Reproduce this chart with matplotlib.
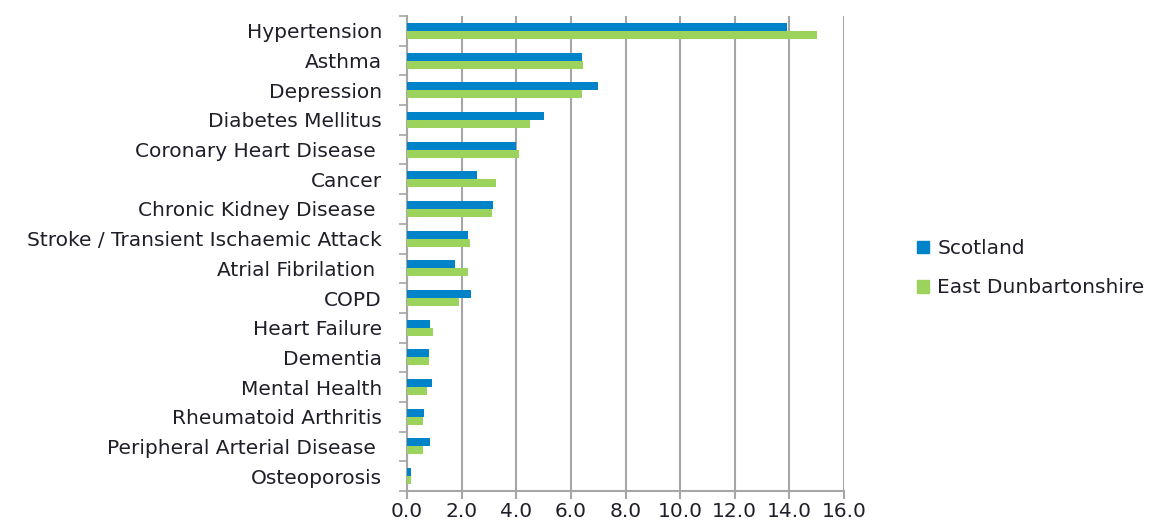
import numpy as np
import matplotlib.pyplot as plt
from matplotlib.patches import Patch
from matplotlib.ticker import FixedLocator, FormatStrFormatter

plt.rcParams['font.family'] = ['DejaVu Sans']

conditions = [
    "Hypertension", "Asthma", "Depression", "Diabetes Mellitus",
    "Coronary Heart Disease ", "Cancer", "Chronic Kidney Disease ",
    "Stroke / Transient Ischaemic Attack", "Atrial Fibrilation ", "COPD",
    "Heart Failure", "Dementia", "Mental Health", "Rheumatoid Arthritis",
    "Peripheral Arterial Disease ", "Osteoporosis",
]
scotland = [13.9, 6.4, 7.0, 5.0, 4.0, 2.55, 3.15, 2.25, 1.75, 2.35,
            0.85, 0.8, 0.9, 0.63, 0.85, 0.14]
east_dunbartonshire = [15.0, 6.45, 6.4, 4.5, 4.1, 3.25, 3.1, 2.3, 2.25, 1.9,
                       0.95, 0.8, 0.72, 0.6, 0.58, 0.15]
x_ticks = np.arange(0, 16.1, 2)

blue = "#0083c9"
green = "#9bd35d"
grid_col = "#a6a6a6"
text_col = "#1f1f2a"
fs = 14.5

fig = plt.figure(figsize=(11.56, 5.22), dpi=100)
ax = fig.add_axes([407 / 1156, 31 / 522, 437 / 1156, 475 / 522])

n = len(conditions)
pos = np.arange(n)[::-1]
h = 0.27
ax.barh(pos + h / 2, scotland, height=h, color=blue, zorder=3)
ax.barh(pos - h / 2, east_dunbartonshire, height=h, color=green, zorder=3)

ax.set_xlim(0, 16)
ax.set_ylim(-0.5, n - 0.5)
ax.set_xticks(x_ticks)
ax.xaxis.set_major_formatter(FormatStrFormatter('%.1f'))
ax.set_yticks(pos)
ax.set_yticklabels(conditions)
ax.yaxis.set_minor_locator(FixedLocator(np.arange(-0.5, n, 1)))

ax.grid(axis='x', color=grid_col, linewidth=1.5, zorder=0)
for s in ['top', 'right']:
    ax.spines[s].set_visible(False)
for s in ['left', 'bottom']:
    ax.spines[s].set_color(grid_col)
    ax.spines[s].set_linewidth(1.5)

ax.tick_params(axis='y', which='major', length=0, pad=18,
               labelsize=fs, labelcolor=text_col)
ax.tick_params(axis='y', which='minor', length=6, width=1.2, color=grid_col)
ax.tick_params(axis='x', length=6, width=1.5, color=grid_col, pad=2,
               labelsize=fs, labelcolor=text_col)

handles = [Patch(color=blue, label="Scotland"),
           Patch(color=green, label="East Dunbartonshire")]
fig.legend(handles=handles, loc='upper left', bbox_to_anchor=(899 / 1156, 1 - 221 / 522),
           frameon=False, fontsize=fs, handlelength=0.6, handleheight=0.6,
           handletextpad=0.4, labelspacing=1.0, labelcolor=text_col)

fig.savefig("out.png", dpi=100)
